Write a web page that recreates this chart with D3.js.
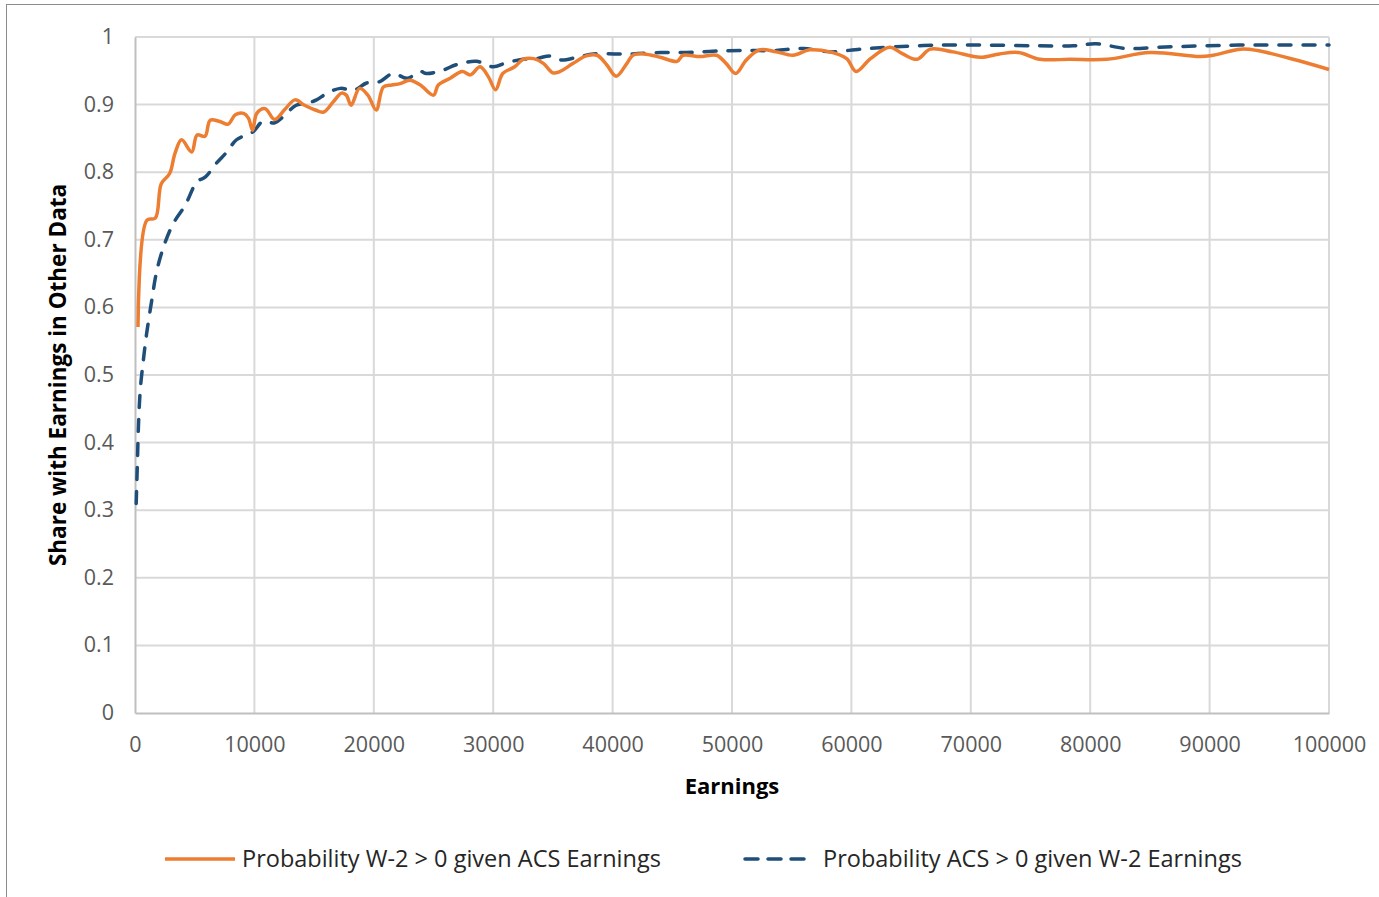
<!DOCTYPE html>
<html>
<head>
<meta charset="utf-8">
<script src="https://cdn.jsdelivr.net/npm/d3@7"></script>
<style>
  html, body { margin: 0; padding: 0; background: #fff; }
  svg { display: block; }
</style>
</head>
<body>
<svg id="chart" width="1379" height="897"></svg>
<script>
// Earnings (x) and share with earnings in the other data source (y)
const w2GivenAcsEarnings = [250, 1000, 1700, 2200, 2900, 3350, 3900, 4750, 5200, 5860, 6300, 7100, 7800, 8400, 9100, 9500, 9850, 10200, 10900, 11700, 12600, 13400, 14200, 15100, 15800, 16600, 17300, 17700, 18100, 18800, 19500, 20200, 20800, 21500, 22200, 23000, 23900, 25000, 25400, 26400, 27400, 28100, 28900, 29600, 30200, 30800, 31800, 32500, 33400, 34200, 35000, 35600, 36700, 37800, 38700, 39500, 40300, 41200, 41700, 42600, 44000, 45400, 45900, 47300, 48700, 49500, 50300, 51200, 52300, 53700, 55100, 56500, 58200, 59600, 60400, 61600, 63200, 64300, 65500, 66600, 68500, 70800, 72400, 74000, 75800, 78300, 81400, 85000, 89200, 90300, 92600, 94000, 97000, 100000];
const w2GivenAcsShare = [0.571, 0.729, 0.732, 0.783, 0.798, 0.828, 0.848, 0.830, 0.855, 0.853, 0.877, 0.875, 0.871, 0.885, 0.887, 0.880, 0.862, 0.887, 0.894, 0.878, 0.894, 0.907, 0.899, 0.892, 0.889, 0.904, 0.917, 0.914, 0.899, 0.924, 0.914, 0.892, 0.926, 0.929, 0.931, 0.936, 0.929, 0.914, 0.929, 0.939, 0.949, 0.944, 0.956, 0.941, 0.922, 0.946, 0.956, 0.967, 0.968, 0.961, 0.947, 0.949, 0.961, 0.972, 0.973, 0.959, 0.942, 0.961, 0.973, 0.975, 0.970, 0.964, 0.973, 0.971, 0.973, 0.961, 0.946, 0.966, 0.981, 0.978, 0.973, 0.981, 0.978, 0.968, 0.949, 0.968, 0.985, 0.975, 0.967, 0.982, 0.978, 0.970, 0.975, 0.977, 0.967, 0.967, 0.967, 0.977, 0.971, 0.973, 0.982, 0.980, 0.967, 0.952];

const acsGivenW2Earnings = [100, 200, 300, 450, 700, 980, 1400, 1800, 2400, 3200, 4200, 5200, 5900, 6800, 7700, 8500, 9900, 10700, 11700, 12400, 13500, 14400, 15200, 16100, 17200, 18300, 19400, 20500, 21600, 22800, 23900, 24400, 25800, 26900, 28600, 30000, 31100, 32500, 33600, 34800, 35700, 37000, 38400, 40100, 41700, 44000, 46200, 48400, 50700, 53500, 56000, 58200, 60700, 63200, 67100, 71300, 75500, 78600, 80500, 83000, 85800, 89700, 92500, 95300, 100000];
const acsGivenW2Share = [0.31, 0.37, 0.43, 0.48, 0.522, 0.562, 0.610, 0.652, 0.690, 0.724, 0.751, 0.786, 0.793, 0.813, 0.830, 0.848, 0.860, 0.875, 0.873, 0.882, 0.899, 0.902, 0.907, 0.917, 0.924, 0.921, 0.932, 0.934, 0.946, 0.939, 0.949, 0.946, 0.951, 0.959, 0.964, 0.956, 0.962, 0.967, 0.968, 0.972, 0.966, 0.970, 0.975, 0.975, 0.975, 0.977, 0.977, 0.979, 0.980, 0.980, 0.983, 0.978, 0.982, 0.985, 0.988, 0.988, 0.987, 0.987, 0.990, 0.983, 0.985, 0.987, 0.988, 0.988, 0.988];

const xTicks = [0, 10000, 20000, 30000, 40000, 50000, 60000, 70000, 80000, 90000, 100000];
const yTicks = [0, 0.1, 0.2, 0.3, 0.4, 0.5, 0.6, 0.7, 0.8, 0.9, 1];

const seriesNames = ["Probability W-2 > 0 given ACS Earnings", "Probability ACS > 0 given W-2 Earnings"];
const seriesColors = ["#ed7d31", "#1f4e79"];

const svg = d3.select("#chart");
const font = "'Open Sans', 'Noto Sans', sans-serif";

// outer frame
svg.append("rect")
  .attr("x", 6.5).attr("y", 4.5)
  .attr("width", 1400).attr("height", 900)
  .attr("fill", "none").attr("stroke", "#8c8c8c").attr("stroke-width", 1);

const plot = { left: 135, right: 1329, top: 37, bottom: 713 };
const x = d3.scaleLinear().domain([0, 100000]).range([plot.left, plot.right]);
const y = d3.scaleLinear().domain([0, 1]).range([plot.bottom, plot.top]);

// gridlines
const grid = svg.append("g");
grid.selectAll("line.h").data(yTicks.filter(d => d > 0)).join("line")
  .attr("x1", plot.left).attr("x2", plot.right)
  .attr("y1", d => y(d)).attr("y2", d => y(d))
  .attr("stroke", "#d9d9d9").attr("stroke-width", 2);
grid.selectAll("line.v").data(xTicks.filter(d => d > 0)).join("line")
  .attr("x1", d => x(d)).attr("x2", d => x(d))
  .attr("y1", plot.top).attr("y2", plot.bottom)
  .attr("stroke", "#d9d9d9").attr("stroke-width", 2);

// axes
const xAxis = svg.append("g")
  .attr("transform", `translate(0,${plot.bottom})`)
  .call(d3.axisBottom(x).tickValues(xTicks).tickFormat(d3.format("d")).tickSize(0).tickPadding(22));
const yAxis = svg.append("g")
  .attr("transform", `translate(${plot.left},0)`)
  .call(d3.axisLeft(y).tickValues(yTicks).tickFormat(d => d === 0 || d === 1 ? d3.format("d")(d) : d3.format(".1f")(d)).tickSize(0).tickPadding(21));
[xAxis, yAxis].forEach(a => {
  a.select(".domain").attr("stroke", "#bfbfbf").attr("stroke-width", 2);
  a.selectAll("text").attr("fill", "#595959").style("font-family", font).style("font-size", "21.5px");
});
xAxis.selectAll("text").attr("dy", "0.32em").attr("y", 32);
yAxis.selectAll("text").attr("dy", "0.3em");

// series
const line = d3.line().x(d => x(d[0])).y(d => y(d[1])).curve(d3.curveCatmullRom.alpha(0.5));
const orangeData = d3.zip(w2GivenAcsEarnings, w2GivenAcsShare);
const blueData = d3.zip(acsGivenW2Earnings, acsGivenW2Share);

svg.append("path").datum(blueData)
  .attr("d", line).attr("fill", "none")
  .attr("stroke", seriesColors[1]).attr("stroke-width", 3.5)
  .attr("stroke-dasharray", "12 12").attr("stroke-linecap", "round");
svg.append("path").datum(orangeData)
  .attr("d", line).attr("fill", "none")
  .attr("stroke", seriesColors[0]).attr("stroke-width", 3.5)
  .attr("stroke-linejoin", "round");

// axis titles
svg.append("text")
  .attr("x", (plot.left + plot.right) / 2).attr("y", 794)
  .attr("text-anchor", "middle")
  .style("font-family", font).style("font-size", "22px").style("font-weight", "bold")
  .attr("fill", "#000").text("Earnings");
svg.append("text")
  .attr("transform", `translate(66,${(plot.top + plot.bottom) / 2}) rotate(-90)`)
  .attr("text-anchor", "middle")
  .style("font-family", font).style("font-size", "22.5px").style("font-weight", "bold")
  .attr("fill", "#000").text("Share with Earnings in Other Data");

// legend
const legend = [
  { x0: 165, x1: 235, tx: 242 },
  { x0: 745, x1: 812, tx: 823 }
];
legend.forEach((l, i) => {
  svg.append("line")
    .attr("x1", l.x0).attr("x2", l.x1).attr("y1", 859).attr("y2", 859)
    .attr("stroke", seriesColors[i]).attr("stroke-width", 3.5)
    .attr("stroke-dasharray", i === 1 ? "13 10" : null)
    .attr("stroke-linecap", i === 1 ? "round" : "butt");
  svg.append("text")
    .attr("x", l.tx).attr("y", 859).attr("dy", "0.35em")
    .style("font-family", font).style("font-size", "23.5px")
    .attr("fill", "#262626").text(seriesNames[i]);
});
</script>
</body>
</html>
